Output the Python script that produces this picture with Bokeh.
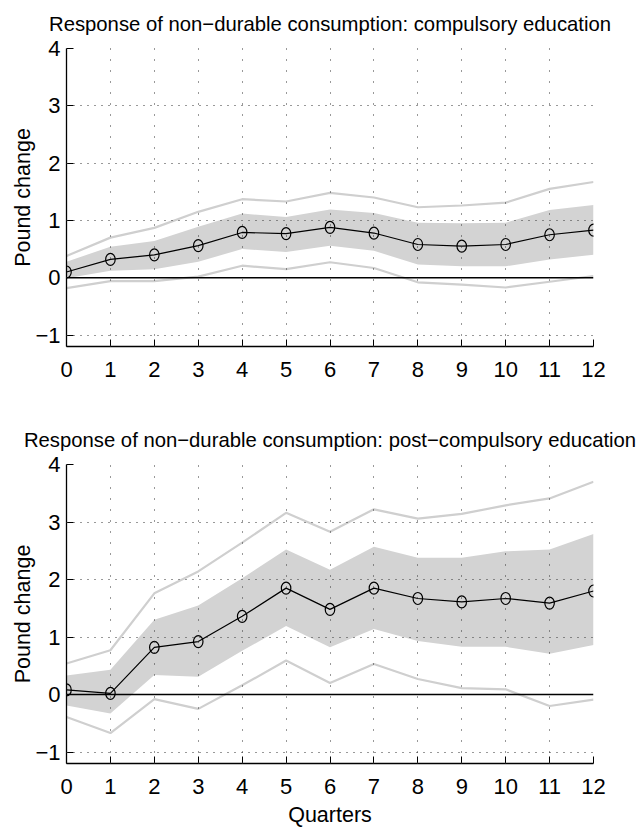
from bokeh.plotting import figure
from bokeh.layouts import column
from bokeh.models import FixedTicker, Span
from bokeh.embed import file_html
from bokeh.resources import INLINE

quarters = list(range(13))

# Panel 1: compulsory education
comp_mid = [0.10, 0.32, 0.40, 0.56, 0.79, 0.77, 0.88, 0.78, 0.58, 0.55, 0.58, 0.75, 0.83]
comp_band_hi = [0.28, 0.54, 0.64, 0.89, 1.12, 1.06, 1.19, 1.13, 0.96, 0.95, 0.96, 1.18, 1.27]
comp_band_lo = [-0.01, 0.12, 0.15, 0.28, 0.50, 0.45, 0.56, 0.47, 0.23, 0.20, 0.20, 0.32, 0.40]
comp_out_hi = [0.38, 0.70, 0.87, 1.15, 1.37, 1.33, 1.48, 1.40, 1.23, 1.26, 1.31, 1.55, 1.67]
comp_out_lo = [-0.18, -0.06, -0.06, 0.02, 0.21, 0.15, 0.27, 0.17, -0.08, -0.12, -0.17, -0.07, 0.03]

# Panel 2: post-compulsory education
post_mid = [0.08, 0.02, 0.82, 0.92, 1.36, 1.85, 1.48, 1.85, 1.67, 1.61, 1.67, 1.59, 1.80]
post_band_hi = [0.33, 0.43, 1.30, 1.55, 2.02, 2.52, 2.17, 2.57, 2.38, 2.38, 2.49, 2.52, 2.79]
post_band_lo = [-0.19, -0.33, 0.34, 0.31, 0.76, 1.19, 0.82, 1.14, 0.93, 0.83, 0.83, 0.71, 0.86]
post_out_hi = [0.54, 0.77, 1.76, 2.14, 2.64, 3.16, 2.83, 3.22, 3.06, 3.14, 3.29, 3.41, 3.70]
post_out_lo = [-0.39, -0.67, -0.08, -0.25, 0.16, 0.59, 0.20, 0.53, 0.27, 0.11, 0.09, -0.20, -0.09]

y_ticks = [-1, 0, 1, 2, 3, 4]
y_tick_labels = {-1: "\u22121"}

titles = ["Response of non\u2212durable consumption: compulsory education",
          "Response of non\u2212durable consumption: post\u2212compulsory education"]
y_label = "Pound change"
x_label = "Quarters"

FONT = "Liberation Sans"
BAND = "#d3d3d3"
OUTER = "#cfcfcf"


def panel(title, mid, blo, bhi, olo, ohi, height, top, bottom, xlabel):
    p = figure(width=642, height=height, x_range=(0, 12), y_range=(-1.2, 4),
               output_backend="svg", toolbar_location=None,
               min_border_left=66, min_border_right=49,
               min_border_top=top, min_border_bottom=bottom)
    p.outline_line_color = None
    p.background_fill_color = "white"
    p.border_fill_color = "white"

    p.title.text = title
    p.title.align = "center"
    p.title.vertical_align = "top"
    p.title.text_font = FONT
    p.title.text_font_size = "20.3px"
    p.title.text_font_style = "normal"
    p.title.text_color = "black"
    p.title.standoff = 24

    p.varea(x=quarters, y1=blo, y2=bhi, fill_color=BAND)
    p.add_layout(Span(location=0, dimension="width", line_color="black", line_width=1.3))
    p.line(quarters, ohi, line_color=OUTER, line_width=2.2)
    p.line(quarters, olo, line_color=OUTER, line_width=2.2)
    p.line(quarters, mid, line_color="black", line_width=1.2)
    p.ellipse(x=quarters, y=mid, width=9.5, height=12, width_units="screen",
              height_units="screen", fill_color=None, line_color="black", line_width=1.2)

    p.xaxis.ticker = FixedTicker(ticks=quarters)
    p.yaxis.ticker = FixedTicker(ticks=y_ticks)
    p.yaxis.major_label_overrides = y_tick_labels
    for ax in (p.xaxis, p.yaxis):
        ax.axis_line_color = "black"
        ax.axis_line_width = 1.3
        ax.major_tick_in = 7
        ax.major_tick_out = 0
        ax.minor_tick_line_color = None
        ax.major_tick_line_color = "black"
        ax.major_label_text_font = FONT
        ax.major_label_text_font_size = "22px"
        ax.major_label_text_color = "black"
        ax.axis_label_text_font = FONT
        ax.axis_label_text_font_size = "21.5px"
        ax.axis_label_text_font_style = "normal"
        ax.axis_label_text_color = "black"
    p.xaxis.major_label_standoff = 15
    p.yaxis.major_label_standoff = 6
    p.yaxis.axis_label = y_label
    p.yaxis.axis_label_standoff = -3
    if xlabel:
        p.xaxis.axis_label = xlabel
        p.xaxis.axis_label_standoff = 6

    p.xgrid.grid_line_color = "#333333"
    p.xgrid.grid_line_dash = "1 10"
    p.ygrid.grid_line_color = "#333333"
    p.ygrid.grid_line_dash = "1 6"
    p.xgrid.level = "annotation"
    p.ygrid.level = "annotation"
    return p


p1 = panel(titles[0], comp_mid, comp_band_lo, comp_band_hi, comp_out_lo, comp_out_hi,
           400, 47, 54, None)
p2 = panel(titles[1], post_mid, post_band_lo, post_band_hi, post_out_lo, post_out_hi,
           429, 64, 66, x_label)

layout = column(p1, p2, spacing=0)
open("out.html", "w").write(file_html(layout, INLINE))
